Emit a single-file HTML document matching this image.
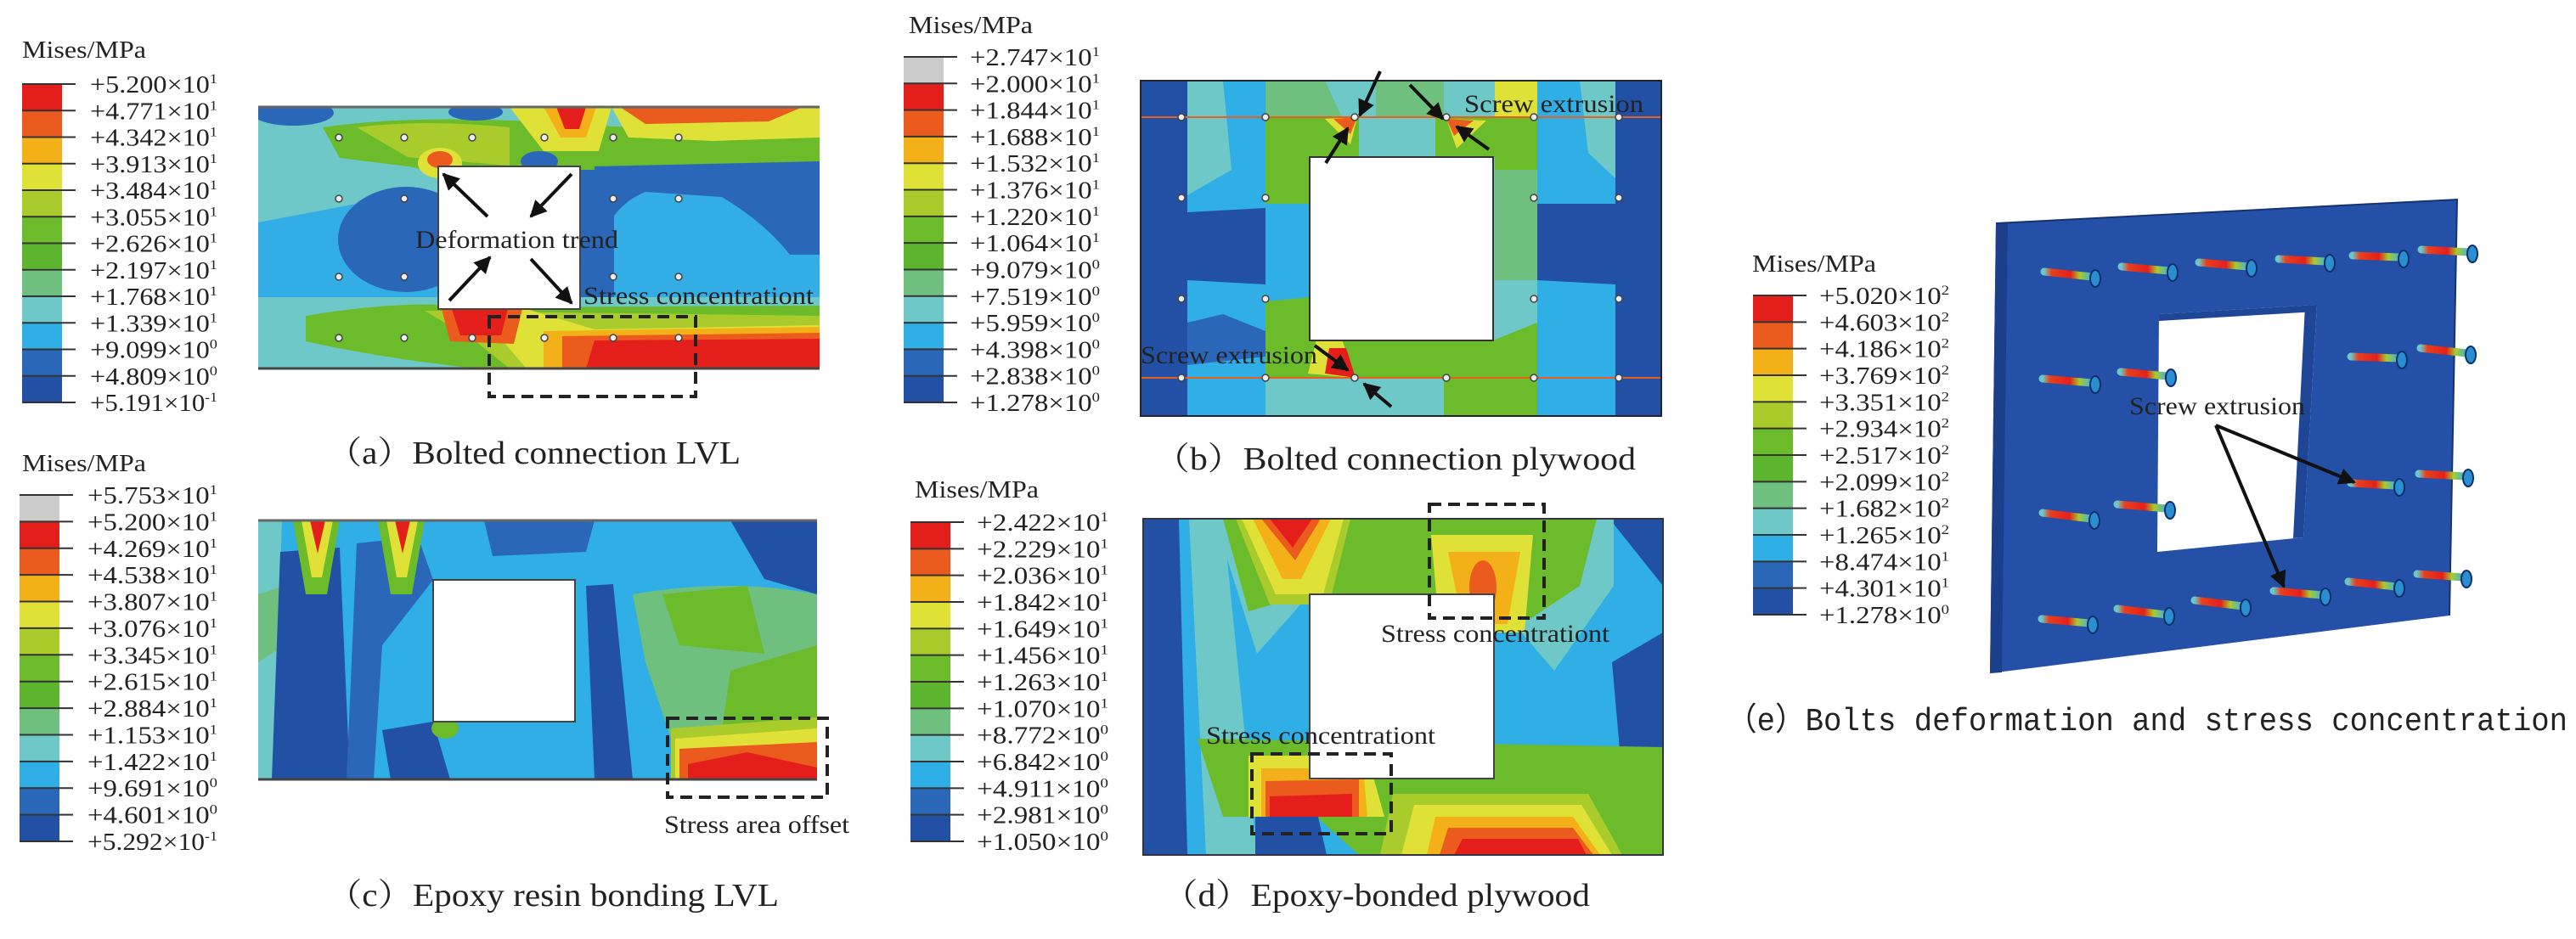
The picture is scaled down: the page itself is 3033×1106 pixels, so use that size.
<!DOCTYPE html>
<html><head><meta charset="utf-8">
<style>
html,body{margin:0;padding:0;background:#fff;}
svg{display:block;}
text{font-family:"Liberation Serif","Noto Serif CJK SC",serif;fill:#222;}
.mono{font-family:"Liberation Mono","Noto Sans CJK SC",monospace;}
</style></head>
<body>
<svg id="fig" width="3033" height="1106" viewBox="0 0 3033 1106" xmlns="http://www.w3.org/2000/svg">
<defs>
 <clipPath id="clipA"><rect x="304" y="126" width="661" height="308"/></clipPath>
 <clipPath id="clipB"><rect x="1343" y="95" width="613" height="395"/></clipPath>
 <clipPath id="clipC"><rect x="304" y="613" width="658" height="305"/></clipPath>
 <clipPath id="clipD"><rect x="1346" y="611" width="612" height="396"/></clipPath>
 <linearGradient id="shank" x1="0" y1="0" x2="1" y2="0">
  <stop offset="0" stop-color="#6cc8c8"/><stop offset="0.15" stop-color="#e8401c"/>
  <stop offset="0.55" stop-color="#e41f1b"/><stop offset="0.75" stop-color="#a9cc2c"/>
  <stop offset="1" stop-color="#3ab0e0"/></linearGradient>
 <marker id="ah" viewBox="0 0 10 10" refX="9" refY="5" markerWidth="5" markerHeight="5" orient="auto"><path d="M0,0 L10,5 L0,10 Z" fill="#111"/></marker>
</defs>

<!-- Panel A -->
<g clip-path="url(#clipA)">
 <rect x="304" y="126" width="661" height="308" fill="#33ade6"/>
 <rect x="304" y="126" width="661" height="24" fill="#6ec8c8"/>
 <path d="M304,150 L420,150 L520,200 L520,250 L420,240 L304,262 Z" fill="#6ec8c8"/>
 <path d="M380,150 Q500,132 700,148 L965,158 L965,215 L820,196 L700,200 L640,232 L560,212 L480,196 L400,186 Z" fill="#6cbb2b"/>
 <path d="M420,150 Q500,140 600,150 L600,195 L480,185 Z" fill="#a9cc2c"/>
 <ellipse cx="345" cy="133" rx="48" ry="15" fill="#2a67b9"/>
 <ellipse cx="560" cy="132" rx="32" ry="10" fill="#2a67b9"/>
 <path d="M600,126 L720,126 L705,178 L640,178 Z" fill="#dfe136"/>
 <path d="M640,126 L702,126 L690,162 L660,162 Z" fill="#f4b019"/>
 <path d="M655,126 L690,126 L682,152 L665,152 Z" fill="#e41f1b"/>
 <path d="M720,126 L965,126 L965,162 L840,166 L740,162 Z" fill="#dfe136"/>
 <path d="M730,126 L945,126 L905,143 L760,146 Z" fill="#eb5b1d"/>
 <ellipse cx="518" cy="192" rx="26" ry="18" fill="#dfe136"/>
 <ellipse cx="518" cy="188" rx="15" ry="10" fill="#eb5b1d"/>
 <ellipse cx="635" cy="190" rx="22" ry="12" fill="#2a67b9"/>
 <ellipse cx="478" cy="282" rx="80" ry="62" fill="#2a67b9"/>
 <path d="M700,196 L965,190 L965,300 L930,300 Q900,262 850,232 L760,226 Q720,242 705,290 Z" fill="#2a67b9"/>
 <rect x="683" y="200" width="40" height="165" fill="#2a67b9"/>
 <rect x="304" y="350" width="661" height="84" fill="#6ec8c8"/>
 <path d="M360,372 Q480,352 560,362 L965,360 L965,434 L560,434 Q450,422 360,402 Z" fill="#6cbb2b"/>
 <path d="M500,366 L965,372 L965,434 L600,434 L560,402 Z" fill="#a9cc2c"/>
 <path d="M560,365 L620,364 L700,388 L965,383 L965,434 L620,434 Z" fill="#dfe136"/>
 <path d="M640,390 L965,385 L965,434 L640,434 Z" fill="#f4b019"/>
 <path d="M662,396 L965,392 L965,434 L662,434 Z" fill="#eb5b1d"/>
 <path d="M700,401 L965,399 L965,434 L690,434 Z" fill="#e41f1b"/>
 <path d="M520,364 L615,364 L605,405 L530,402 Z" fill="#eb5b1d"/>
 <path d="M532,364 L598,364 L590,395 L542,395 Z" fill="#e41f1b"/>
</g>
<line x1="304" y1="126" x2="965" y2="126" stroke="#666" stroke-width="3"/>
<line x1="304" y1="434" x2="965" y2="434" stroke="#444" stroke-width="3"/>
<rect x="516" y="196" width="167" height="168" fill="#fff" stroke="#444" stroke-width="2"/>
<g id="boltsA"></g>
<rect x="576" y="373" width="243" height="94" fill="none" stroke="#222" stroke-width="4" stroke-dasharray="14,8"/>
<g stroke="#111" stroke-width="4" marker-end="url(#ah)">
 <line x1="574" y1="255" x2="522" y2="205"/><line x1="673" y1="205" x2="625" y2="255"/>
 <line x1="529" y1="354" x2="577" y2="303"/><line x1="625" y1="305" x2="673" y2="357"/>
</g>
<text x="489" y="292" font-size="30" textLength="239" lengthAdjust="spacingAndGlyphs">Deformation trend</text>
<text x="687" y="358" font-size="30" textLength="271" lengthAdjust="spacingAndGlyphs">Stress concentrationt</text>
<text x="385" y="546" font-size="38" textLength="487" lengthAdjust="spacingAndGlyphs">（a）Bolted connection LVL</text>

<!-- Panel B -->
<g clip-path="url(#clipB)">
 <rect x="1343" y="95" width="613" height="395" fill="#2fafe6"/>
 <rect x="1343" y="95" width="55" height="395" fill="#2250a5"/>
 <rect x="1902" y="95" width="54" height="395" fill="#2250a5"/>
 <path d="M1398,95 L1440,95 L1450,200 L1398,230 Z" fill="#6ec8c8"/>
 <path d="M1860,95 L1902,95 L1902,210 L1870,180 Z" fill="#6ec8c8"/>
 <rect x="1490" y="95" width="320" height="395" fill="#6ec8c8"/>
 <path d="M1490,138 L1810,138 L1810,200 L1760,200 L1760,185 L1542,185 L1542,240 L1490,240 Z" fill="#6cbb2b"/>
 <path d="M1490,355 L1542,350 L1542,401 L1758,401 L1810,380 L1810,445 L1490,445 Z" fill="#6cbb2b"/>
 <path d="M1760,200 L1810,200 L1810,330 L1760,330 Z" fill="#6fbf7f"/>
 <path d="M1490,240 L1542,240 L1542,350 L1490,355 Z" fill="#2fafe6"/>
 <path d="M1490,95 L1560,95 L1580,138 L1490,138 Z" fill="#6fbf7f"/>
 <path d="M1620,95 L1700,95 L1700,138 L1620,138 Z" fill="#6fbf7f"/>
 <path d="M1760,95 L1810,95 L1810,138 L1760,138 Z" fill="#dfe136"/>
 <path d="M1600,138 L1690,138 L1690,185 L1600,185 Z" fill="#6ec8c8"/>
 <path d="M1490,460 L1810,460 L1810,490 L1490,490 Z" fill="#6ec8c8"/>
 <path d="M1700,445 L1810,445 L1810,490 L1700,490 Z" fill="#6cbb2b"/>
 <path d="M1398,250 L1490,245 L1490,335 L1398,330 Z" fill="#2250a5"/>
 <path d="M1810,240 L1902,240 L1902,335 L1810,330 Z" fill="#2250a5"/>
 <path d="M1398,380 L1440,370 L1490,390 L1490,420 L1398,430 Z" fill="#2a67b9"/>
 <path d="M1560,140 L1598,138 L1590,170 Z" fill="#dfe136"/>
 <path d="M1570,140 L1598,138 L1590,158 Z" fill="#eb5b1d"/>
 <path d="M1703,140 L1750,142 L1715,175 Z" fill="#dfe136"/>
 <path d="M1703,140 L1735,142 L1712,160 Z" fill="#eb5b1d"/>
 <path d="M1550,400 L1580,400 L1596,445 L1540,440 Z" fill="#dfe136"/>
 <path d="M1565,410 L1585,410 L1596,445 L1560,440 Z" fill="#e41f1b"/>
 <g stroke="#e8601c" stroke-width="2"><line x1="1343" y1="138" x2="1956" y2="138"/><line x1="1343" y1="445" x2="1956" y2="445"/></g>
</g>
<rect x="1343" y="95" width="613" height="395" fill="none" stroke="#223" stroke-width="2"/>
<rect x="1542" y="185" width="216" height="216" fill="#fff" stroke="#333" stroke-width="2"/>
<g id="boltsB"></g>
<g stroke="#111" stroke-width="4" marker-end="url(#ah)">
 <line x1="1625" y1="84" x2="1601" y2="136"/><line x1="1660" y1="100" x2="1699" y2="140"/>
 <line x1="1561" y1="192" x2="1587" y2="151"/><line x1="1753" y1="176" x2="1715" y2="149"/>
 <line x1="1548" y1="407" x2="1587" y2="436"/><line x1="1638" y1="479" x2="1606" y2="452"/>
</g>
<text x="1724" y="132" font-size="30" textLength="211" lengthAdjust="spacingAndGlyphs">Screw extrusion</text>
<text x="1343" y="428" font-size="30" textLength="208" lengthAdjust="spacingAndGlyphs">Screw extrusion</text>
<text x="1359" y="553" font-size="38" textLength="567" lengthAdjust="spacingAndGlyphs">（b）Bolted connection plywood</text>

<!-- Panel C -->
<g clip-path="url(#clipC)">
 <rect x="304" y="613" width="658" height="305" fill="#2fafe6"/>
 <path d="M304,613 L332,613 L322,918 L304,918 Z" fill="#6ec8c8"/>
 <path d="M304,700 L335,690 L335,760 L304,780 Z" fill="#6fbf7f"/>
 <path d="M330,650 L400,645 L412,918 L320,918 Z" fill="#2250a5"/>
 <path d="M420,640 L492,632 L510,683 L450,760 L440,918 L408,918 Z" fill="#2a67b9"/>
 <path d="M450,860 L510,850 L530,918 L460,918 Z" fill="#2250a5"/>
 <path d="M570,613 L700,613 L690,650 L580,655 Z" fill="#2a67b9"/>
 <path d="M690,690 L722,688 L745,918 L700,918 Z" fill="#2250a5"/>
 <path d="M860,613 L962,613 L962,700 L900,682 Z" fill="#2250a5"/>
 <path d="M745,700 Q860,680 962,700 L962,870 L790,870 L760,780 Z" fill="#6fbf7f"/>
 <path d="M780,700 L880,690 L900,770 L800,760 Z" fill="#6cbb2b"/>
 <path d="M860,790 L962,760 L962,860 L850,860 Z" fill="#6cbb2b"/>
 <path d="M790,858 L962,845 L962,918 L790,918 Z" fill="#a9cc2c"/>
 <path d="M795,870 L962,858 L962,918 L795,918 Z" fill="#dfe136"/>
 <path d="M800,882 L962,874 L962,918 L800,918 Z" fill="#eb5b1d"/>
 <path d="M810,900 L880,886 L962,904 L962,918 L810,918 Z" fill="#e41f1b"/>
 <path d="M345,613 L400,613 L385,700 L360,700 Z" fill="#6cbb2b"/>
 <path d="M355,613 L392,613 L379,680 L367,680 Z" fill="#dfe136"/>
 <path d="M365,613 L383,613 L374,652 Z" fill="#e41f1b"/>
 <path d="M445,613 L500,613 L485,700 L460,700 Z" fill="#6cbb2b"/>
 <path d="M455,613 L492,613 L479,680 L467,680 Z" fill="#dfe136"/>
 <path d="M465,613 L483,613 L474,652 Z" fill="#e41f1b"/>
 <ellipse cx="524" cy="858" rx="16" ry="12" fill="#6cbb2b"/>
</g>
<line x1="304" y1="613" x2="962" y2="613" stroke="#666" stroke-width="3"/>
<line x1="304" y1="918" x2="962" y2="918" stroke="#444" stroke-width="3"/>
<rect x="510" y="683" width="167" height="167" fill="#fff" stroke="#444" stroke-width="2"/>
<rect x="786" y="846" width="188" height="93" fill="none" stroke="#222" stroke-width="4" stroke-dasharray="14,8"/>
<text x="782" y="981" font-size="30" textLength="218" lengthAdjust="spacingAndGlyphs">Stress area offset</text>
<text x="385" y="1067" font-size="38" textLength="532" lengthAdjust="spacingAndGlyphs">（c）Epoxy resin bonding LVL</text>

<!-- Panel D -->
<g clip-path="url(#clipD)">
 <rect x="1346" y="611" width="612" height="396" fill="#2fafe6"/>
 <path d="M1346,611 L1388,611 L1398,1007 L1346,1007 Z" fill="#2250a5"/>
 <path d="M1898,780 L1958,745 L1958,1007 L1918,1007 Z" fill="#2250a5"/>
 <path d="M1895,611 L1958,611 L1958,690 Z" fill="#2250a5"/>
 <path d="M1400,611 L1440,611 L1480,1007 L1420,1007 Z" fill="#6ec8c8"/>
 <path d="M1430,611 L1900,611 L1900,690 L1830,790 L1770,720 L1540,702 L1480,770 Z" fill="#6ec8c8"/>
 <path d="M1440,611 L1880,611 L1860,690 L1800,730 L1540,700 L1470,720 Z" fill="#6cbb2b"/>
 <path d="M1455,611 L1590,611 L1565,712 L1495,712 Z" fill="#a9cc2c"/>
 <path d="M1462,611 L1582,611 L1558,700 L1502,700 Z" fill="#dfe136"/>
 <path d="M1475,611 L1567,611 L1532,682 L1510,682 Z" fill="#f4b019"/>
 <path d="M1485,611 L1555,611 L1525,660 Z" fill="#eb5b1d"/>
 <path d="M1495,611 L1545,611 L1522,645 Z" fill="#e41f1b"/>
 <path d="M1685,630 L1805,630 L1795,745 L1695,745 Z" fill="#dfe136"/>
 <path d="M1705,650 L1790,650 L1775,735 L1722,735 Z" fill="#f4b019"/>
 <ellipse cx="1746" cy="692" rx="16" ry="32" fill="#eb5b1d"/>
 <path d="M1410,870 L1958,880 L1958,1007 L1600,1007 L1550,962 L1440,962 Z" fill="#6cbb2b"/>
 <path d="M1470,890 L1610,890 L1630,962 L1470,962 Z" fill="#dfe136"/>
 <path d="M1485,905 L1605,905 L1610,962 L1485,962 Z" fill="#f4b019"/>
 <path d="M1490,920 L1600,918 L1600,962 L1490,962 Z" fill="#eb5b1d"/>
 <path d="M1495,938 L1592,935 L1592,962 L1495,962 Z" fill="#e41f1b"/>
 <path d="M1478,962 L1552,962 L1562,1007 L1478,1007 Z" fill="#2250a5"/>
 <path d="M1640,935 L1870,935 L1910,1007 L1625,1007 Z" fill="#a9cc2c"/>
 <path d="M1665,948 L1862,948 L1898,1007 L1650,1007 Z" fill="#dfe136"/>
 <path d="M1690,962 L1852,962 L1884,1007 L1680,1007 Z" fill="#f4b019"/>
 <path d="M1705,975 L1852,975 L1876,1007 L1695,1007 Z" fill="#eb5b1d"/>
 <path d="M1722,988 L1858,988 L1868,1007 L1712,1007 Z" fill="#e41f1b"/>
</g>
<rect x="1346" y="611" width="612" height="396" fill="none" stroke="#334" stroke-width="2"/>
<rect x="1542" y="700" width="217" height="217" fill="#fff" stroke="#444" stroke-width="2"/>
<rect x="1683" y="594" width="135" height="134" fill="none" stroke="#222" stroke-width="4" stroke-dasharray="14,8"/>
<rect x="1474" y="888" width="164" height="94" fill="none" stroke="#222" stroke-width="4" stroke-dasharray="14,8"/>
<text x="1626" y="756" font-size="30" textLength="269" lengthAdjust="spacingAndGlyphs">Stress concentrationt</text>
<text x="1420" y="876" font-size="30" textLength="270" lengthAdjust="spacingAndGlyphs">Stress concentrationt</text>
<text x="1369" y="1067" font-size="38" textLength="503" lengthAdjust="spacingAndGlyphs">（d）Epoxy-bonded plywood</text>

<!-- Panel E -->
<g>
 <polygon points="2350,263 2893,235 2884,725 2343,793" fill="#2450a8"/>
 <polygon points="2343,793 2350,263 2364,262 2357,792" fill="#1c3f8c"/>
 <polyline points="2350,263 2893,235 2884,725" fill="none" stroke="#17336f" stroke-width="2"/>
 <polygon points="2542,370 2728,359 2712,633 2540,650" fill="#fff"/>
 <polygon points="2714,360 2728,359 2712,633 2700,634" fill="#1f4596"/>
 <polygon points="2542,370 2728,359 2727,367 2542,378" fill="#1f4596"/>
</g>
<g id="boltsE"></g>
<g stroke="#111" stroke-width="4" marker-end="url(#ah)">
 <line x1="2609" y1="501" x2="2772" y2="568"/><line x1="2609" y1="501" x2="2689" y2="691"/>
</g>
<text x="2507" y="488" font-size="30" textLength="207" lengthAdjust="spacingAndGlyphs">Screw extrusion</text>
<text class="mono" x="2033" y="860" font-size="38" textLength="990" lengthAdjust="spacingAndGlyphs">（e）Bolts deformation and stress concentration</text>

<g id="legends"></g>
</svg>

<script>
const colors12 = ['#e41f1b','#eb5b1d','#f4b019','#dfe136','#a9cc2c','#6cbb2b','#5db52f','#6fbf7f','#6ec8c8','#2fafe6','#2a67b9','#2250a5'];
const colors13 = ['#cbcbcb'].concat(colors12);
const mantA = ['+5.200','+4.771','+4.342','+3.913','+3.484','+3.055','+2.626','+2.197','+1.768','+1.339','+9.099','+4.809','+5.191'];
const expA  = ['1','1','1','1','1','1','1','1','1','1','0','0','-1'];
const mantB = ['+2.747','+2.000','+1.844','+1.688','+1.532','+1.376','+1.220','+1.064','+9.079','+7.519','+5.959','+4.398','+2.838','+1.278'];
const expB  = ['1','1','1','1','1','1','1','1','0','0','0','0','0','0'];
const mantC = ['+5.753','+5.200','+4.269','+4.538','+3.807','+3.076','+3.345','+2.615','+2.884','+1.153','+1.422','+9.691','+4.601','+5.292'];
const expC  = ['1','1','1','1','1','1','1','1','1','1','1','0','0','-1'];
const mantD = ['+2.422','+2.229','+2.036','+1.842','+1.649','+1.456','+1.263','+1.070','+8.772','+6.842','+4.911','+2.981','+1.050'];
const expD  = ['1','1','1','1','1','1','1','1','0','0','0','0','0'];
const mantE = ['+5.020','+4.603','+4.186','+3.769','+3.351','+2.934','+2.517','+2.099','+1.682','+1.265','+8.474','+4.301','+1.278'];
const expE  = ['2','2','2','2','2','2','2','2','2','2','1','1','0'];

const NS = 'http://www.w3.org/2000/svg';
const legRoot = document.getElementById('legends');
function mk(tag, attrs, parent){ const e=document.createElementNS(NS,tag); for(const k in attrs) e.setAttribute(k,attrs[k]); parent.appendChild(e); return e; }

function drawLegend(name, titleX, titleY, barX, barTop, barBot, colors, mant, exps, labelX, labelW){
  const g = mk('g',{},legRoot);
  
  
  const t = mk('text',{x:titleX,y:titleY,'font-size':28,textLength:146,lengthAdjust:'spacingAndGlyphs'},g);
  t.textContent='Mises/MPa';
  
  
  const n = colors.length, h = (barBot-barTop)/n;
  colors.forEach((c,i)=>{
    const r = mk('rect',{x:barX,y:barTop+i*h,width:47,height:h+0.5,fill:c},g);
    
    
  });
  for(let i=0;i<=n;i++){
    const y = barTop+i*h;
    mk('line',{x1:barX,y1:y,x2:barX+63,y2:y,stroke:'#333','stroke-width':2},g);
    const tx = mk('text',{x:labelX,y:y+10,'font-size':28,textLength:labelW,lengthAdjust:'spacingAndGlyphs'},g);
    
    
    tx.appendChild(document.createTextNode(mant[i]+'×10'));
    const sup = mk('tspan',{dy:-11,'font-size':16},tx);
    sup.textContent = exps[i];
  }
}
drawLegend('legend-a', 26, 68, 26, 99, 474, colors12, mantA, expA, 106, 150);
drawLegend('legend-b', 1070, 39, 1064, 67, 474, colors13, mantB, expB, 1142, 153);
drawLegend('legend-c', 26, 555, 23, 583, 991, colors13, mantC, expC, 103, 153);
drawLegend('legend-d', 1077, 586, 1072, 615, 991, colors12, mantD, expD, 1150, 155);
drawLegend('legend-e', 2063, 320, 2064, 348, 724, colors12, mantE, expE, 2142, 153);

const colsA = [399,476,556,641,722,799], rowsA = [162,234,326,398];
const colsB = [1391,1490,1595,1703,1806,1906], rowsB = [138,233,352,445];
function drawBolts(id, cols, rows, hole){
  const g = document.getElementById(id);
  rows.forEach(y=>cols.forEach(x=>{
    if(x>hole[0]&&x<hole[2]&&y>hole[1]&&y<hole[3]) return;
    const c = mk('circle',{cx:x,cy:y,r:4,fill:'#eee',stroke:'#444','stroke-width':1.5},g);
    
    
  }));
}
drawBolts('boltsA', colsA, rowsA, [516,196,683,364]);
drawBolts('boltsB', colsB, rowsB, [1542,185,1758,401]);

const boltTail = [[2407,320],[2498,314],[2589,309],[2683,305],[2770,301],[2851,294],
 [2405,446],[2497,438],[2768,420],[2850,410],
 [2405,604],[2493,594],[2768,569],[2848,558],
 [2404,729],[2493,717],[2584,707],[2677,696],[2765,685],[2846,676]];
const boltHead = [[2467,328],[2558,321],[2651,316],[2743,310],[2830,305],[2911,299],
 [2467,453],[2556,445],[2828,424],[2909,418],
 [2466,613],[2555,601],[2825,574],[2906,563],
 [2464,736],[2554,726],[2644,716],[2738,703],[2825,693],[2904,682]];
const gE = document.getElementById('boltsE');
boltTail.forEach((t,i)=>{
  const h = boltHead[i];
  const ln = mk('line',{x1:t[0],y1:t[1],x2:h[0]-4,y2:h[1]-2,stroke:'url(#shank)','stroke-width':9,'stroke-linecap':'round'},gE);
  
  
  const e = mk('ellipse',{cx:h[0],cy:h[1],rx:6,ry:10,fill:'#2a8fd0',stroke:'#0d2f6a','stroke-width':2},gE);
  
  
});
</script>
</body></html>
